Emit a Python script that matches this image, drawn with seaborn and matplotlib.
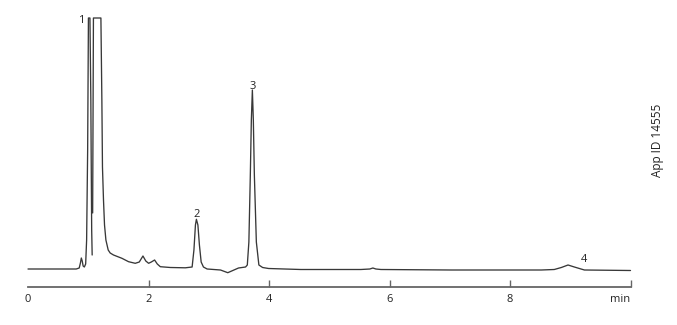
import numpy as np
import pandas as pd
import matplotlib
matplotlib.use("Agg")
import matplotlib.pyplot as plt
import seaborn as sns

# ---- data (retention time in min, detector signal in arbitrary units) ----
# segment 1: baseline, small pre-peak and first sharp spike (peak 1)
time_seg1 = [0.00, 0.80, 0.85, 0.87, 0.885, 0.90, 0.915, 0.935, 0.957, 0.973,
             0.99, 1.003, 1.028, 1.043, 1.048, 1.057, 1.065]
signal_seg1 = [0, 0, 1, 6, 11, 8, 3, 2, 5, 29,
               119, 251, 251, 169, 119, 39, 14]

# segment 2: saturated main peak, tail, peaks 2, 3 and 4
time_seg2 = [1.073, 1.086, 1.21, 1.226, 1.236, 1.253, 1.27, 1.293, 1.331, 1.364,
             1.419, 1.559, 1.669, 1.78, 1.847, 1.908, 1.955, 2.002, 2.047, 2.101,
             2.146, 2.196, 2.363, 2.612, 2.724, 2.754, 2.779, 2.795, 2.82, 2.845,
             2.874, 2.912, 2.973, 3.195, 3.316, 3.494, 3.611, 3.64, 3.666, 3.69,
             3.707, 3.724, 3.74, 3.757, 3.79, 3.832, 3.894, 3.993, 4.526, 5.524,
             5.674, 5.724, 5.774, 5.857, 7.022, 8.52, 8.735, 8.852, 8.963, 9.068,
             9.235, 10.0]
signal_seg2 = [56, 251, 251, 169, 102, 69, 44, 29, 19, 16,
               14, 10.7, 7.3, 5.7, 7, 13, 8, 5.7, 7, 9,
               5, 2.3, 1.5, 1.2, 2, 19, 44, 49.7, 44, 24,
               7, 2, 0, -1, -3.7, 1, 2, 4, 27, 94,
               149, 179, 149, 94, 27, 4, 1.5, 0.5, -0.5, -0.5,
               0, 1, 0, -0.5, -1, -1, -0.5, 1.5, 4, 2,
               -1, -1.5]

peak_labels = ["1", "2", "3", "4"]
peak_label_time = [0.93, 2.80, 3.724, 9.22]
peak_label_signal = [243, 49, 177, 4]

tick_values = [0, 2, 4, 6, 8, 10]
tick_labels = ["0", "2", "4", "6", "8", "min"]

df = pd.concat([
    pd.DataFrame({"time": time_seg1, "signal": signal_seg1, "seg": 1}),
    pd.DataFrame({"time": time_seg2, "signal": signal_seg2, "seg": 2}),
], ignore_index=True)

sns.set_style("white")
plt.rcParams["font.family"] = ["Open Sans", "DejaVu Sans"]

fig = plt.figure(figsize=(6.77, 3.25), dpi=100)
W, H = 677, 325
x0, x1 = 28, 630.5
y_bot, y_top = 287, 16
ax = fig.add_axes([x0 / W, (H - y_bot) / H, (x1 - x0) / W, (y_bot - y_top) / H])

sns.lineplot(data=df, x="time", y="signal", units="seg", estimator=None,
             color="#383838", linewidth=0.95, ax=ax, sort=False)
for ln in ax.lines:
    ln.set_clip_on(False)

ax.set_xlim(0, 10)
ax.set_ylim(-18, 253)

for lab, t, s in zip(peak_labels, peak_label_time, peak_label_signal):
    ha = "right" if lab == "1" else "center"
    ax.text(t, s, lab, ha=ha, va="bottom", fontsize=8, color="#222222")

for side in ["left", "right", "top"]:
    ax.spines[side].set_visible(False)
ax.spines["bottom"].set_color("#666666")
ax.spines["bottom"].set_linewidth(1.3)
ax.set_yticks([])
ax.set_xticks(tick_values)
ax.set_xticklabels(tick_labels)
ax.tick_params(axis="x", direction="in", length=5, width=1.0, color="#666666",
               labelsize=8, labelcolor="#222222", pad=5, bottom=True)
ticks = ax.xaxis.get_major_ticks()
ticks[0].tick1line.set_visible(False)
ticks[-1].label1.set_horizontalalignment("right")
ax.set_xlabel("")
ax.set_ylabel("")

fig.text(657 / W, 1 - 140 / H, "App ID 14555", rotation=90, ha="center",
         va="center", fontsize=8.5, color="#222222")

fig.savefig("out.png", dpi=100)
